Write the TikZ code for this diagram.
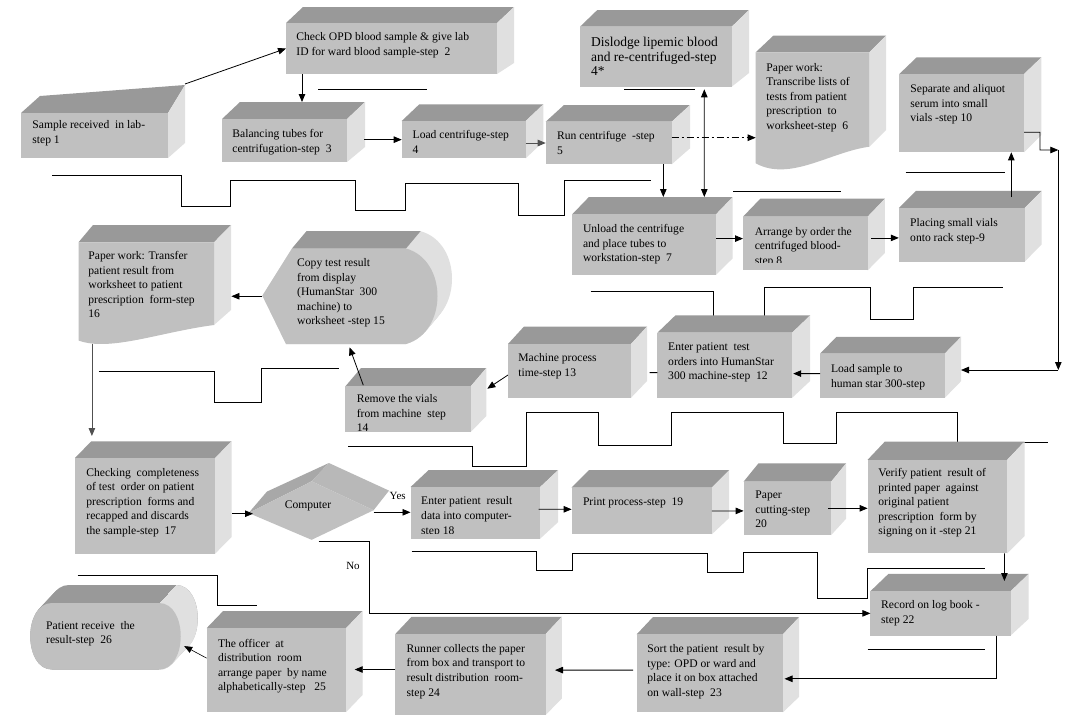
\documentclass[tikz,border=0pt]{standalone}
\usepackage{fontspec}
\setmainfont{Liberation Serif}
\usetikzlibrary{arrows.meta,calc}
\definecolor{frontc}{HTML}{C0C0C0}
\definecolor{topc}{HTML}{999999}
\definecolor{sidec}{HTML}{E0E0E0}
\definecolor{arrgray}{HTML}{505050}
\definecolor{dialeft}{HTML}{A8A8A8}
\definecolor{diaright}{HTML}{B8B8B8}
% name, x1, y1, x2, y2, dx, dy, y of lower back corner of side face
\newcommand\cubebox[8]{%
  \fill[topc] (#2,#3) -- ({#2+#6},{#3-#7}) -- ({#4+#6},{#3-#7}) -- (#4,#3) -- cycle;
  \fill[sidec] (#4,#3) -- ({#4+#6},{#3-#7}) -- ({#4+#6},#8) -- (#4,#5) -- cycle;
  \node[front, minimum width={(#4)-(#2)}, minimum height={(#5)-(#3)}] (#1) at ({(#2+#4)/2},{(#3+#5)/2}) {};
}
\begin{document}
\begin{tikzpicture}[x=1pt, y=-1pt, line width=0.8pt,
  >={Triangle[length=8pt,width=6.5pt]},
  front/.style={rectangle, fill=frontc, draw=none, inner sep=0pt, outer sep=0pt},
  ghost/.style={rectangle, draw=none, inner sep=0pt, outer sep=0pt},
  txt/.style={anchor=north west, inner sep=0pt, align=left, font=\fontsize{11.6}{14.6}\selectfont},
  arr/.style={draw=black, ->},
  garr/.style={draw=arrgray, ->},
  deco/.style={draw=black, line width=0.8pt},
  lbl/.style={inner sep=0pt, font=\fontsize{11}{13}\selectfont}]
\fill[white] (0,0) rectangle (1073,721);
\useasboundingbox (0,0) rectangle (1073,721);

% ---------- decorative lines ----------
\draw[deco] (318,89) -- (427,89);
\draw[deco] (624.3,89.3) -- (695,89.3);
\draw[deco] (733.3,191.8) -- (840.6,191.8);
\draw[deco] (905.7,172.5) -- (1005,172.5);
\draw[deco] (52,175) -- (181,175) -- (181,206) -- (230,206) -- (230,180) -- (355,180) -- (355,210) -- (405,210) -- (405,183) -- (518,183) -- (518,215) -- (564,215) -- (564,180) -- (651,180);
\draw[deco] (98.8,371.4) -- (214.2,371.4) -- (214.2,402.4) -- (261.7,402.4) -- (261.7,368.7) -- (339.2,368.7);
\draw[deco] (590.6,291.2) -- (713.5,291.2) -- (713.5,321.7) -- (764.4,321.7) -- (764.4,287.7) -- (870.4,287.7) -- (870.4,318.9) -- (913.3,318.9) -- (913.3,287.7) -- (1002.6,287.7);
\draw[deco] (348,446) -- (472,446) -- (472,466) -- (526,466) -- (526,412) -- (598,412) -- (598,445) -- (671,445) -- (671,412) -- (783.5,412) -- (783.5,443.5) -- (836.4,443.5) -- (836.4,412) -- (957,412) -- (957,442) -- (1048,442);
\draw[deco] (411.5,551.5) -- (536.2,551.5) -- (536.2,570) -- (572.2,570) -- (572.2,553) -- (707.3,553) -- (707.3,572) -- (743,572) -- (743,552.3) -- (817.4,552.3) -- (817.4,598.1) -- (867.6,598.1) -- (867.6,568) -- (985.3,568);
\draw[deco] (867.6,649.3) -- (985.3,649.3);
\draw[deco] (77.5,575) -- (217.6,575) -- (217.6,605.5) -- (256.5,605.5);

% ---------- step 1 ----------
\fill[topc] (21,113) -- (40,96) -- (185,85) -- (168,113) -- cycle;
\fill[sidec] (168,113) -- (185,85) -- (185,143) -- (168,158) -- cycle;
\node[front, minimum width=147, minimum height=45] (b1) at (94.5,135.5) {};
\coordinate (b1c) at (185,84);
\node[txt] (t1) at (32,120) {Sample received\ \ in lab-\\step 1};

% ---------- step 2 ----------
\cubebox{b2}{286}{23}{497}{74}{17}{16}{63}
\node[txt] (t2) at (296,32) {Check OPD blood sample \& give lab\\ID for ward blood sample-step\ \ 2};

% ---------- step 3 ----------
\cubebox{b3}{222}{119}{347}{162}{18}{17}{147}
\node[txt] (t3) at (232,129.3) {Balancing tubes for\\centrifugation-step\ \ 3};

% ---------- step 4 ----------
\cubebox{b4}{401.7}{121}{525.7}{158.3}{17.6}{16.7}{141.7}
\node[txt] (t4) at (412.3,130.3) {Load centrifuge-step\\4};

% ---------- step 5 ----------
\cubebox{b5}{545.7}{121.7}{671.7}{164.3}{18.3}{16.7}{148.3}
\node[txt] (t5) at (556.7,131) {Run centrifuge\ \ -step\\5};

% ---------- step 4* ----------
\cubebox{b4s}{580}{26.7}{731.7}{86.7}{17.3}{16.7}{73}
\node[txt, font=\fontsize{13.5}{14.5}\selectfont] (t4s) at (590.7,37.1) {Dislodge lipemic blood\\and re-centrifuged-step\\4*};

% ---------- step 6 (document) ----------
\fill[topc] (755.7,52.3) -- (773.3,35.7) -- (886,35.7) -- (869.3,52.3) -- cycle;
\fill[sidec] (869.3,52.3) -- (886,35.7) -- (886,130) -- (869.3,146.7) -- cycle;
\fill[frontc] (755.7,52.3) -- (869.3,52.3) -- (869.3,146.7) .. controls (830,152) and (790,182) .. (755.7,163.3) -- cycle;
\node[ghost, minimum width=113.6, minimum height=111] (b6) at (812.5,107.8) {};
\node[txt] (t6) at (766,62.7) {Paper work:\\Transcribe lists of\\tests from patient\\prescription\ \ to\\worksheet-step\ \ 6};

% ---------- step 10 ----------
\cubebox{b10}{899.3}{74}{1024}{152.3}{17.4}{16.7}{135}
\node[txt] (t10) at (910,84.3) {Separate and aliquot\\serum into small\\vials -step 10};

% ---------- step 7 ----------
\cubebox{b7}{572.2}{214.3}{716}{274.9}{16.7}{17.3}{258.3}
\node[txt] (t7) at (582.6,224.2) {Unload the centrifuge\\and place tubes to\\workstation-step\ \ 7};

% ---------- step 8 ----------
\cubebox{b8}{743}{216.7}{867.6}{270.4}{17.3}{18}{253}
\begin{scope}
\clip (743,216.7) rectangle (867.6,262.5);
\node[txt] (t8) at (754.4,226.6) {Arrange by order the\\centrifuged blood-\\step 8};
\end{scope}

% ---------- step 9 ----------
\cubebox{b9}{898.8}{208}{1024.5}{261.8}{17.2}{17.2}{244.4}
\node[txt] (t9) at (909.8,218) {Placing small vials\\onto rack step-9};

% ---------- step 11 ----------
\cubebox{b11}{820.2}{353.5}{944.8}{397.8}{16.2}{16.6}{381.2}
\node[txt] (t11) at (830.6,364) {Load sample to\\human star 300-step};

% ---------- step 12 ----------
\cubebox{b12}{657.4}{332.7}{792.1}{397.8}{18}{17.3}{381}
\node[txt] (t12) at (667.8,342.6) {Enter patient\ \ test\\orders into HumanStar\\300 machine-step\ \ 12};

% ---------- step 13 ----------
\cubebox{b13}{508}{344}{631}{397.8}{16}{17.5}{381}
\node[txt] (t13) at (518,353) {Machine process\\time-step 13};

% ---------- step 14 ----------
\cubebox{b14}{345.4}{386.3}{470.7}{432}{15.6}{18.3}{416}
\node[txt] (t14) at (356.4,394) {Remove the vials\\from machine\ \ step\\14};

% ---------- step 15 (display) ----------
\foreach \k in {0,...,15} {
  \fill[sidec, shift={({\k*14.5/15},{-\k*17.3/15})}] (262.4,295.7) -- (292,248.5) -- (406,248.5) .. controls (448,260) and (448,332) .. (406,344) -- (286,344) -- cycle;
}
\fill[topc] (292,248.5) -- (306.5,231.2) -- (420.5,231.2) -- (406,248.5) -- cycle;
\fill[frontc] (262.4,295.7) -- (292,248.5) -- (406,248.5) .. controls (448,260) and (448,332) .. (406,344) -- (286,344) -- cycle;
\node[ghost, minimum width=175.1, minimum height=95.5] (b15) at (350,296.25) {};
\node[txt] (t15) at (296.8,258) {Copy test result\\from display\\(HumanStar\ \ 300\\machine) to\\worksheet -step 15};

% ---------- step 16 (document) ----------
\fill[topc] (78.5,242.3) -- (93,225) -- (231,225) -- (214,242.3) -- cycle;
\fill[sidec] (214,242.3) -- (231,225) -- (231,310) -- (214,325) -- cycle;
\fill[frontc] (78.5,242.3) -- (214,242.3) -- (214,325) .. controls (160,332) and (110,352) .. (78.5,340.5) -- cycle;
\node[ghost, minimum width=135.5, minimum height=98.2] (b16) at (146.25,291.4) {};
\node[txt] (t16) at (88,251) {Paper work: Transfer\\patient result from\\worksheet to patient\\prescription\ \ form-step\\16};

% ---------- step 17 ----------
\cubebox{b17}{75}{457.9}{215.2}{553.6}{16.3}{16.6}{537}
\node[txt] (t17) at (86,467.7) {Checking\ \ completeness\\of test\ \ order on patient\\prescription\ \ forms and\\recapped and discards\\the sample-step\ \ 17};

% ---------- decision ----------
\fill[dialeft] (248.6,513) -- (266.9,491.6) -- (328.9,463) -- (311.6,481.3) -- cycle;
\fill[diaright] (311.6,481.3) -- (328.9,463) -- (389,490.6) -- (373.6,510.2) -- cycle;
\fill[frontc] (248.6,513) -- (311.6,481.3) -- (373.6,510.2) -- (311.6,539.8) -- cycle;
\node[ghost, minimum width=125, minimum height=58.5] (dia) at (311.1,510.55) {};
\node[inner sep=0pt, font=\fontsize{11.6}{14}\selectfont] (tcomp) at (308,506) {Computer};

% ---------- step 18 ----------
\cubebox{b18}{410.5}{487.1}{540}{538.8}{18.2}{17.1}{522}
\begin{scope}
\clip (410.5,487.1) rectangle (540,533.8);
\node[txt] (t18) at (420.8,496.5) {Enter patient\ \ result\\data into computer-\\step 18};
\end{scope}

% ---------- step 19 ----------
\cubebox{b19}{571.6}{487.5}{711.8}{534.3}{17.3}{17.3}{518}
\node[txt] (t19) at (582.6,497.4) {Print process-step\ \ 19};

% ---------- step 20 ----------
\cubebox{b20}{743.6}{481.6}{831.2}{535}{14.9}{18.3}{518.7}
\node[txt] (t20) at (755,490.4) {Paper\\cutting-step\\20};

% ---------- step 21 ----------
\cubebox{b21}{867.6}{459.8}{1007.2}{553.3}{17.3}{18.3}{536}
\node[txt] (t21) at (878,467.9) {Verify patient\ \ result of\\printed paper\ \ against\\original patient\\prescription\ \ form by\\signing on it -step 21};

% ---------- step 22 ----------
\cubebox{b22}{870.4}{591.2}{1010.6}{635.5}{18}{17.3}{618.9}
\node[txt] (t22) at (880.8,600.3) {Record on log book -\\step 22};

% ---------- step 23 ----------
\cubebox{b23}{636.6}{634.4}{782.8}{712.4}{16.3}{17.3}{696.8}
\node[txt] (t23) at (647,644.3) {Sort the patient\ \ result by\\type: OPD or ward and\\place it on box attached\\on wall-step\ \ 23};

% ---------- step 24 ----------
\cubebox{b24}{395.3}{634}{545.6}{715}{16.2}{17.2}{698.5}
\node[txt] (t24) at (406.3,643.8) {Runner collects the paper\\from box and transport to\\result distribution\ \ room-\\step 24};

% ---------- step 25 ----------
\cubebox{b25}{206.6}{628.2}{346}{712.2}{16.5}{17.2}{695}
\node[txt] (t25) at (217.6,638.6) {The officer\ \ at\\distribution\ \ room\\arrange paper\ \ by name\\alphabetically-step\ \ \ 25};

% ---------- step 26 (capsule) ----------
\foreach \k in {0,...,17} {
  \fill[topc, shift={(\k,{-\k*18/17})}] (52,603) -- (159,603) .. controls (188,603) and (188,669.5) .. (159,669.5) -- (52,669.5) .. controls (23,669.5) and (23,603) .. (52,603) -- cycle;
}
\foreach \k in {0,...,17} {
  \fill[sidec, shift={(\k,{-\k*18/17})}] (159,603) .. controls (188,603) and (188,669.5) .. (159,669.5) -- cycle;
}
\fill[frontc] (52,603) -- (159,603) .. controls (188,603) and (188,669.5) .. (159,669.5) -- (52,669.5) .. controls (23,669.5) and (23,603) .. (52,603) -- cycle;
\node[ghost, minimum width=151, minimum height=66.5] (b26) at (105.5,636.25) {};
\node[txt] (t26) at (45.8,620.7) {Patient receive\ \ the\\result-step\ \ 26};

% ---------- connectors ----------
\coordinate (c11) at (1058.3,150);
\coordinate (c12) at (1058.3,370);
\draw[arr] (b1c) -- (b2.west);
\draw[arr] ([xshift=16pt]b2.south west) -- ([xshift=80pt,yshift=17pt]b3.north west);
\draw[arr] ([xshift=17pt,yshift=0.85pt]b3.east) -- (b4.west);
\draw[garr] ([yshift=-3.35pt]b4.east) -- (b5.west);
\draw[arr, dash pattern=on 7pt off 3pt on 2pt off 3pt] ([yshift=5.3pt]b5.east) -- ([yshift=-29.9pt]b6.west);
\draw[arr] ([xshift=-8.4pt]b5.south east) -- ([xshift=91.1pt,yshift=17.3pt]b7.north west);
\draw[arr, <->] ([xshift=-27.4pt,yshift=-2.6pt]b4s.south east) -- ([xshift=132.1pt,yshift=17.3pt]b7.north west);
\draw[arr] ([yshift=6pt]b7.east) -- ([yshift=4.95pt]b8.west);
\draw[arr] ([xshift=3.4pt,yshift=5.65pt]b8.east) -- ([yshift=-3pt]b9.west);
\draw[arr] ([xshift=-13.2pt,yshift=11pt]b9.north east) -- ([xshift=-12.7pt]b10.south east);
\draw[arr] ([yshift=-19.15pt]b10.east) -- ++(16,0) -- ++(0,17.7) -- (c11);
\draw[arr] (c11) -- (c12);
\draw[arr] (c12) -- ([xshift=16.2pt,yshift=5.65pt]b11.east);
\draw[arr] ([yshift=2.05pt]b11.west) -- ([xshift=1.1pt,yshift=-8.35pt]b12.east);
\draw ([yshift=-7.35pt]b12.west) -- ([xshift=18.5pt,yshift=-1.7pt]b13.east);
\draw[arr] ([yshift=-4.1pt]b13.west) -- ([xshift=16.6pt,yshift=-2.4pt]b14.north east);
\draw[arr] ([xshift=17.9pt,yshift=1.1pt]b14.north west) -- ([xshift=87.1pt,yshift=-3.3pt]b15.south west);
\draw[arr] (b15.west) -- ([xshift=17.4pt,yshift=-4.85pt]b16.east);
\draw[garr] ([xshift=13.4pt,yshift=-3.4pt]b16.south west) -- ([xshift=16.9pt,yshift=21.9pt]b17.north west);
\draw[arr] ([xshift=17.2pt,yshift=-7.95pt]b17.east) -- ([xshift=4.4pt,yshift=-3.15pt]dia.west);
\draw[arr] ([yshift=-1.75pt]dia.east) -- ([yshift=0.65pt]b18.west);
\node[lbl] (yes) at (397.7,496.4) {Yes};
\draw[arr] ([xshift=7.4pt,yshift=-1.4pt]dia.south) -- ++(50.6,0) |- (b22.west);
\node[lbl] (no) at (353,566) {No};
\draw[arr] ([xshift=-1.3pt,yshift=3.65pt]b18.east) -- ([yshift=1.6pt]b19.west);
\draw[arr] (b19.east) -- ([yshift=-2.6pt]b20.west);
\draw[arr] ([xshift=-3.2pt]b20.east) -- ([yshift=-1.75pt]b21.west);
\draw[arr] ([xshift=-2.8pt]b21.south east) -- ([xshift=-6.2pt,yshift=10.2pt]b22.north east);
\draw[arr] ([xshift=-13.8pt]b22.south east) |- ([xshift=1.7pt,yshift=-5.4pt]b23.east);
\draw[arr] ([xshift=-3.4pt,yshift=3.3pt]b23.west) -- ([xshift=9.4pt,yshift=4.4pt]b24.east);
\draw[arr] ([yshift=5pt]b24.west) -- ([xshift=8.7pt,yshift=0.7pt]b25.east);
\draw[arr, line width=0.6pt] ([yshift=12.1pt]b25.west) -- ([xshift=3.2pt,yshift=-9.85pt]b26.east);
\end{tikzpicture}
\end{document}
